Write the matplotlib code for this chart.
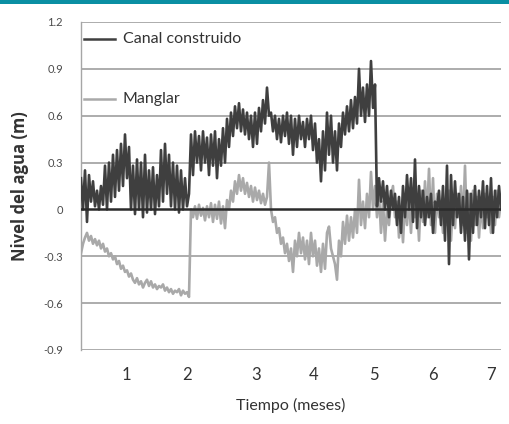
import numpy as np
import matplotlib
matplotlib.use("Agg")
import matplotlib.pyplot as plt
from matplotlib.patches import Rectangle

# ---------------- data ----------------
canal = [
    0.20, 0.00, 0.25, -0.08, 0.22, 0.05, 0.18, 0.02,
    0.12, 0.00, 0.15, 0.03, 0.28, 0.00, 0.30, 0.05,
    0.35, 0.08, 0.38, 0.12, 0.42, 0.15, 0.48, 0.20,
    0.40, 0.00, 0.28, -0.03, 0.32, 0.00, 0.30, -0.05,
    0.35, -0.02, 0.25, 0.00, 0.27, -0.03, 0.22, 0.02,
    0.38, 0.05, 0.42, 0.10, 0.35, 0.02, 0.30, 0.00,
    0.28, -0.02, 0.25, 0.00, 0.20, 0.02, 0.10,
    0.48, 0.22, 0.50, 0.30, 0.47, 0.25, 0.50, 0.30,
    0.46, 0.22, 0.48, 0.28, 0.50, 0.20, 0.45, 0.28,
    0.52, 0.30, 0.58, 0.40, 0.62, 0.47, 0.66, 0.52,
    0.68, 0.50, 0.64, 0.48, 0.62, 0.45, 0.60, 0.40,
    0.62, 0.42, 0.65, 0.50, 0.70, 0.55, 0.78, 0.60,
    0.62, 0.50, 0.60, 0.45, 0.58, 0.43, 0.60, 0.47,
    0.62, 0.42, 0.60, 0.35, 0.58, 0.40, 0.60, 0.45,
    0.56, 0.40, 0.58, 0.45, 0.60, 0.38, 0.55, 0.30,
    0.45, 0.18, 0.50, 0.25, 0.62, 0.35, 0.60, 0.30,
    0.50, 0.25, 0.55, 0.40, 0.62, 0.48, 0.66, 0.50,
    0.70, 0.52, 0.72, 0.55, 0.90, 0.60, 0.78, 0.56,
    0.80, 0.60, 0.95, 0.65, 0.80,
    0.02, 0.20, 0.05, 0.18, 0.00, 0.15, -0.05, 0.12,
    0.00, 0.10, -0.10, 0.08, -0.15, 0.15, -0.05, 0.22,
    0.00, 0.20, -0.08, 0.32, -0.12, 0.15, -0.05, 0.12,
    -0.10, 0.08, -0.05, 0.10, -0.15, 0.05, 0.00, 0.12,
    -0.10, 0.15, -0.20, 0.28, -0.35, 0.22, -0.10, 0.18,
    -0.05, 0.10, -0.15, 0.08, -0.20, 0.12, -0.32, 0.10,
    -0.15, 0.15, -0.10, 0.12, -0.05, 0.18, -0.12, 0.15,
    -0.10, 0.20, -0.15, 0.12, -0.05, 0.15, 0.00,
]

manglar = [
    -0.28, -0.22, -0.18, -0.15, -0.20, -0.17, -0.22, -0.19,
    -0.23, -0.20, -0.25, -0.22, -0.27, -0.25, -0.30, -0.28,
    -0.32, -0.30, -0.35, -0.33, -0.38, -0.36, -0.40, -0.39,
    -0.43, -0.41, -0.45, -0.47, -0.44, -0.48, -0.46, -0.50,
    -0.47, -0.45, -0.49, -0.46, -0.50, -0.48, -0.51, -0.49,
    -0.50, -0.48, -0.52, -0.50, -0.53, -0.51, -0.54, -0.52,
    -0.53, -0.51, -0.55, -0.52, -0.54, -0.53, -0.56,
    0.00, -0.05, 0.02, -0.06, 0.03, -0.04, 0.01, -0.07,
    0.02, -0.05, 0.04, -0.08, 0.03, -0.06, 0.05, -0.09,
    0.02, -0.12, 0.06, 0.00, 0.12, 0.05, 0.18, 0.10,
    0.22, 0.12, 0.20, 0.10, 0.17, 0.08, 0.15, 0.05,
    0.14, 0.06, 0.12, 0.04, 0.10, 0.03, 0.08, 0.30,
    0.00, -0.08, -0.05, -0.15, -0.12, -0.22, -0.18, -0.28,
    -0.22, -0.33, -0.25, -0.40, -0.20, -0.30, -0.15, -0.28,
    -0.18, -0.32, -0.20, -0.35, -0.15, -0.30, -0.20, -0.36,
    -0.25, -0.40, -0.22, -0.38, -0.15, -0.11, -0.25, -0.30,
    -0.35, -0.45, -0.20, -0.30, -0.08, -0.22, -0.04, -0.20,
    -0.05, -0.18, 0.00, -0.15, 0.19, -0.10, 0.05, -0.12,
    0.10, -0.05, 0.24, 0.00, 0.15,
    -0.05, 0.10, -0.15, 0.05, -0.20, 0.00, -0.10, 0.08,
    0.15, -0.05, 0.05, -0.18, 0.00, -0.21, 0.05, -0.10,
    0.08, -0.15, 0.10, -0.05, 0.05, -0.20, 0.12, -0.08,
    0.18, -0.05, 0.26, -0.10, 0.20, -0.15, 0.10, -0.05,
    0.05, -0.15, 0.00, -0.10, 0.12, -0.20, 0.05, -0.12,
    0.10, -0.05, 0.15, -0.10, 0.28, -0.15, 0.10, -0.20,
    0.12, -0.10, 0.08, -0.18, 0.05, -0.12, 0.10, -0.05,
    0.05, -0.15, 0.08, -0.10, 0.12, -0.05, 0.06,
]

tiempo = np.linspace(0.0, 7.0, len(canal))   # time axis of the record (months)
x_tick_pos = [0.75, 1.77, 2.92, 3.88, 4.88, 5.87, 6.83]
x_tick_labels = ["1", "2", "3", "4", "5", "6", "7"]
y_ticks = [-0.9, -0.6, -0.3, 0, 0.3, 0.6, 0.9, 1.2]
y_tick_labels = ["-0.9", "-0.6", "-0.3", "0", "0.3", "0.6", "0.9", "1.2"]
series_names = ["Canal construido", "Manglar"]

# ---------------- styling ----------------
DARK = "#3f3f3f"
LIGHT = "#a9a9a9"
GRID = "#a6a6a6"
FONT = ["Lato", "DejaVu Sans"]

fig = plt.figure(figsize=(5.09, 4.24), dpi=100)
fig.patch.set_facecolor("white")
fig.add_artist(Rectangle((0, 1 - 4 / 424), 1, 4 / 424, transform=fig.transFigure,
                         facecolor="#0a8fa3", edgecolor="none"))

ax = fig.add_axes([81 / 509, 1 - 350 / 424, (501 - 81) / 509, (350 - 22) / 424])
ax.set_xlim(0, 7)
ax.set_ylim(-0.9, 1.2)

for yv in y_ticks:
    if yv != 0:
        ax.axhline(yv, color=GRID, lw=1.3, zorder=1)

ax.plot(tiempo, manglar, color=LIGHT, lw=1.9, zorder=2)
ax.plot(tiempo, canal, color=DARK, lw=1.9, zorder=3)
ax.axhline(0, color="#2b2b2b", lw=1.8, zorder=4)

for s in ["top", "right", "bottom"]:
    ax.spines[s].set_visible(False)
ax.spines["left"].set_color(GRID)
ax.spines["left"].set_linewidth(1.0)

ax.set_yticks(y_ticks)
ax.set_yticklabels(y_tick_labels, fontsize=8, color="#4a4a4a", family=FONT)
ax.set_xticks(x_tick_pos)
ax.set_xticklabels(x_tick_labels, fontsize=12, color="#333333", family=FONT)
ax.tick_params(axis="y", length=0, pad=13)
ax.tick_params(axis="x", length=0, pad=12)

ax.set_xlabel("Tiempo (meses)", fontsize=11.5, color="#333333", family=FONT, labelpad=11)
ax.set_ylabel("Nivel del agua (m)", fontsize=12, fontweight="bold", color="#333333",
              family=["Open Sans", "DejaVu Sans"], labelpad=10)

# manual legend
leg_y = [(350 - 39) / 328, (350 - 99) / 328]
leg_colors = [DARK, LIGHT]
for name, yy, c in zip(series_names, leg_y, leg_colors):
    ax.plot([3 / 420, 34 / 420], [yy, yy], transform=ax.transAxes, color=c, lw=1.8,
            clip_on=False, zorder=5)
    ax.text(42 / 420, yy, name, transform=ax.transAxes, fontsize=11.5, color="#333333",
            family=FONT, va="center", ha="left", zorder=5)

fig.savefig("out.png", dpi=100, facecolor="white")
